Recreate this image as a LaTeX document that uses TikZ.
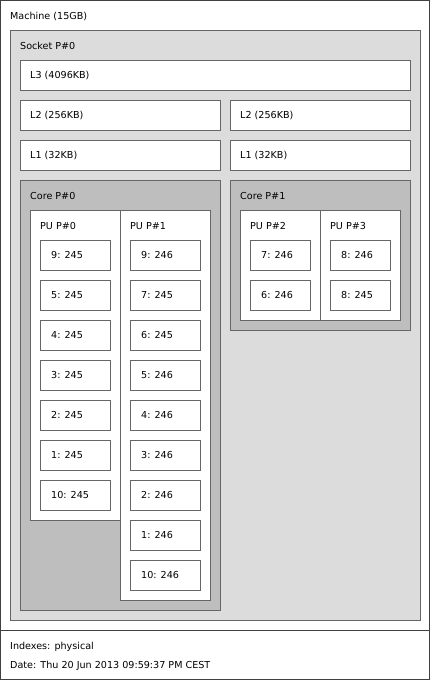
\documentclass[tikz,border=0pt]{standalone}
\usepackage{fontspec}
\setmainfont{DejaVu Sans}
\definecolor{socketgray}{HTML}{DCDCDC}
\definecolor{coregray}{HTML}{BEBEBE}
\begin{document}
\begin{tikzpicture}[x=1pt,y=-1pt,
    every node/.style={font=\fontsize{9.6}{11}\selectfont, inner sep=0pt, anchor=west},
    frame/.style={draw=black!60, line width=0.9pt}]
    \useasboundingbox (0,0) rectangle (430,680);
    % machine and legend
    \draw[frame, draw=black!75, fill=white] (0.5,0.5) rectangle (429.5,679.5);
    \draw[frame, draw=black!75] (0.5,630) -- (429.5,630);
    \node (machine) at (10,16) {Machine (15GB)};
    \node (indexes) at (10,647) {Indexes: physical};
    \node (date) at (10,666) {Date: Thu 20 Jun 2013 09:59:37 PM CEST};

    % socket and caches
    \draw[frame, fill=socketgray] (10,30) rectangle (420,620);
    \node (socket) at (20,46) {Socket P\#0};
    \draw[frame, fill=white] (20,60) rectangle (410,90);
    \node (l3) at (30,75) {L3 (4096KB)};
    \draw[frame, fill=white] (20,100) rectangle (220,130);
    \node (l2a) at (30,115) {L2 (256KB)};
    \draw[frame, fill=white] (230,100) rectangle (410,130);
    \node (l2b) at (240,115) {L2 (256KB)};
    \draw[frame, fill=white] (20,140) rectangle (220,170);
    \node (l1a) at (30,155) {L1 (32KB)};
    \draw[frame, fill=white] (230,140) rectangle (410,170);
    \node (l1b) at (240,155) {L1 (32KB)};

    % core P#0
    \draw[frame, fill=coregray] (20,180) rectangle (220,610);
    \node (core0) at (30,196) {Core P\#0};
    \draw[frame, fill=white] (30,210) rectangle (120,520);
    \node (pu0) at (40,226) {PU P\#0};
    \draw[frame, fill=white] (120,210) rectangle (210,600);
    \node (pu1) at (130,226) {PU P\#1};
    \foreach \t [count=\i from 0] in {9: 245, 5: 245, 4: 245, 3: 245, 2: 245, 1: 245, 10: 245} {
        \draw[frame, fill=white] (40,240+40*\i) rectangle (110,270+40*\i);
        \node (pu0n\i) at (51,255+40*\i) {\t};
    }
    \foreach \t [count=\i from 0] in {9: 246, 7: 245, 6: 245, 5: 246, 4: 246, 3: 246, 2: 246, 1: 246, 10: 246} {
        \draw[frame, fill=white] (130,240+40*\i) rectangle (200,270+40*\i);
        \node (pu1n\i) at (141,255+40*\i) {\t};
    }

    % core P#1
    \draw[frame, fill=coregray] (230,180) rectangle (410,330);
    \node (core1) at (240,196) {Core P\#1};
    \draw[frame, fill=white] (240,210) rectangle (320,320);
    \node (pu2) at (250,226) {PU P\#2};
    \draw[frame, fill=white] (320,210) rectangle (400,320);
    \node (pu3) at (330,226) {PU P\#3};
    \foreach \t [count=\i from 0] in {7: 246, 6: 246} {
        \draw[frame, fill=white] (250,240+40*\i) rectangle (310,270+40*\i);
        \node (pu2n\i) at (261,255+40*\i) {\t};
    }
    \foreach \t [count=\i from 0] in {8: 246, 8: 245} {
        \draw[frame, fill=white] (330,240+40*\i) rectangle (390,270+40*\i);
        \node (pu3n\i) at (341,255+40*\i) {\t};
    }
\end{tikzpicture}
\end{document}
